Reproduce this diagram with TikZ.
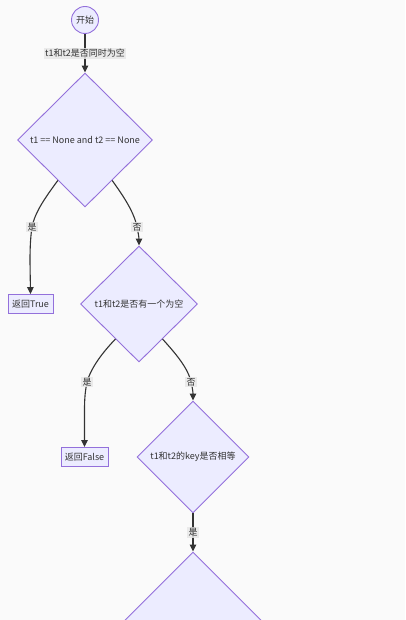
\documentclass[tikz,border=0pt]{standalone}
\usepackage{fontspec}
\setmainfont{Noto Sans CJK SC}
\usetikzlibrary{shapes.geometric,arrows.meta,calc}
\definecolor{nodefill}{HTML}{ECECFF}
\definecolor{nodeline}{HTML}{9370DB}
\definecolor{edgeline}{HTML}{333333}
\definecolor{lblbg}{HTML}{E8E8E8}
\definecolor{bg}{HTML}{FAFAFA}
\definecolor{txt}{HTML}{333333}
\tikzset{
  base/.style={draw=nodeline,fill=nodefill,line width=0.9pt,text=txt,font=\fontsize{9}{11}\selectfont,inner sep=2pt},
  startnode/.style={base,circle,minimum size=27pt},
  boxnode/.style={base,rectangle,minimum height=19pt},
  decision/.style={base,diamond,aspect=1},
  edge/.style={draw=edgeline,line width=1.1pt,-{Triangle[length=7pt,width=6.5pt]}},
  lbl/.style={fill=lblbg,fill opacity=0.85,text opacity=1,text=txt,font=\fontsize{9}{11}\selectfont,inner sep=1.2pt}
}
\begin{document}
\begin{tikzpicture}[x=1pt,y=-1pt]
\useasboundingbox (0,0) rectangle (405,620);
\fill[bg] (0,0) rectangle (405,620);
\clip (0,0) rectangle (405,620);
\node[startnode] (s) at (85,20) {开始};
\node[decision,minimum width=135pt,minimum height=134pt] (d1) at (85,140) {t1 == None and t2 == None};
\node[boxnode,minimum width=45pt] (t) at (30.5,304) {返回True};
\node[decision,minimum width=117pt,minimum height=116pt] (d2) at (139,304) {t1和t2是否有一个为空};
\node[boxnode,minimum width=47pt] (f) at (84.5,457) {返回False};
\node[decision,minimum width=112pt,minimum height=112pt] (d3) at (193,457) {t1和t2的key是否相等};
\node[decision,minimum width=200pt,minimum height=200pt] (d4) at (193,652) {};

\draw[edge] (s.south) -- node[lbl,pos=0.5] {t1和t2是否同时为空} (d1.north);
\draw[edge] ($(d1.west)!0.6!(d1.south)$) .. controls (45,198) and (35,212) .. (32,227)
  node[lbl] {是} .. controls (30,240) and (30,255) .. (30,262) -- (t.north);
\draw[edge] ($(d1.east)!0.6!(d1.south)$) .. controls (124,197) and (134,212) .. (137,227)
  node[lbl] {否} .. controls (139,236) and (139,240) .. (d2.north);
\draw[edge] ($(d2.west)!0.6!(d2.south)$) .. controls (102,353) and (91,368) .. (87,382)
  node[lbl] {是} .. controls (85,392) and (84.5,400) .. (84.5,410) -- (f.north);
\draw[edge] ($(d2.east)!0.6!(d2.south)$) .. controls (176,354) and (188,368) .. (191,382)
  node[lbl] {否} .. controls (193,390) and (193,394) .. (d3.north);
\draw[edge] (d3.south) -- node[lbl,pos=0.5] {是} (d4.north);
\end{tikzpicture}
\end{document}
